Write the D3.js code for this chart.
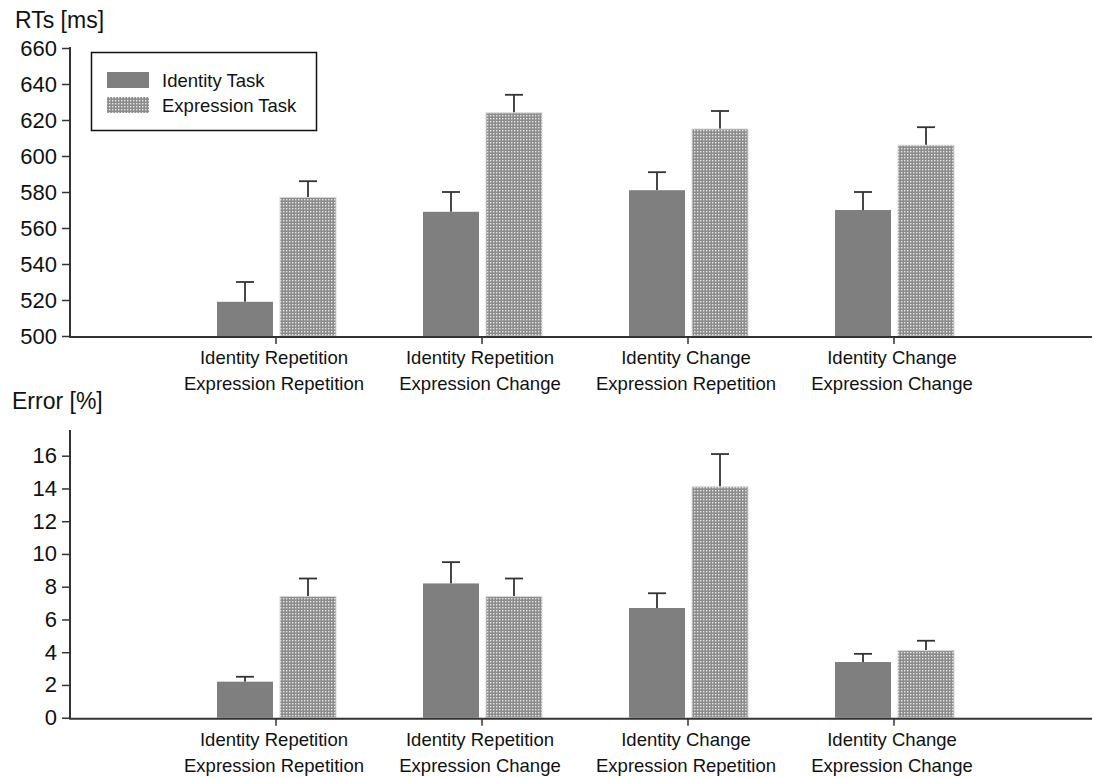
<!DOCTYPE html>
<html><head><meta charset="utf-8">
<script src="https://cdn.jsdelivr.net/npm/d3@7"></script>
<style>body{margin:0;background:#fff;}svg{display:block;font-family:"Liberation Sans",Arial,sans-serif;}</style>
</head><body>
<svg id="c" width="1094" height="778"></svg>
<script>
const categories = [
  ["Identity Repetition", "Expression Repetition"],
  ["Identity Repetition", "Expression Change"],
  ["Identity Change", "Expression Repetition"],
  ["Identity Change", "Expression Change"]
];
const series = ["Identity Task", "Expression Task"];
const rtIdentity = [519, 569, 581, 570];
const rtIdentityErr = [11, 11, 10, 10];
const rtExpression = [577, 624, 615, 606];
const rtExpressionErr = [9, 10, 10, 10];
const errIdentity = [2.2, 8.2, 6.7, 3.4];
const errIdentityErr = [0.3, 1.3, 0.9, 0.5];
const errExpression = [7.4, 7.4, 14.1, 4.1];
const errExpressionErr = [1.1, 1.1, 2.0, 0.6];
const rtTicks = [500, 520, 540, 560, 580, 600, 620, 640, 660];
const errTicks = [0, 2, 4, 6, 8, 10, 12, 14, 16];

const svg = d3.select("#c");
const defs = svg.append("defs");
const pat = defs.append("pattern").attr("id", "dots").attr("patternUnits", "userSpaceOnUse")
  .attr("width", 3).attr("height", 3);
pat.append("rect").attr("width", 3).attr("height", 3).attr("fill", "#8c8c8c");
pat.append("rect").attr("x", 1).attr("y", 1).attr("width", 1.4).attr("height", 1.4).attr("fill", "#e6e6e6");

const x = d3.scaleLinear().domain([0, 5]).range([70, 1100]);
const barW = 56, gap = 3;
const colId = "#7f7f7f";

function panel(cfg) {
  const y = d3.scaleLinear().domain(cfg.domain).range(cfg.range);
  const g = svg.append("g");
  const data = categories.map((c, i) => ({i, a: cfg.a[i], ae: cfg.ae[i], b: cfg.b[i], be: cfg.be[i]}));
  const y0 = y(cfg.domain[0]);
  data.forEach(d => {
    const cx = x(d.i + 1);
    [[cx - gap - barW / 2, d.a, d.ae], [cx + gap + 1 + barW / 2, d.b, d.be]].forEach(([ex, v, e]) => {
      g.append("line").attr("x1", ex).attr("x2", ex).attr("y1", y(v)).attr("y2", y(v + e))
        .attr("stroke", "#333").attr("stroke-width", 1.8);
      g.append("line").attr("x1", ex - 9).attr("x2", ex + 9).attr("y1", y(v + e)).attr("y2", y(v + e))
        .attr("stroke", "#333").attr("stroke-width", 1.8);
    });
    g.append("rect").attr("x", cx - gap - barW).attr("y", y(d.a)).attr("width", barW)
      .attr("height", y0 - y(d.a)).attr("fill", colId);
    g.append("rect").attr("x", cx + gap + 1).attr("y", y(d.b)).attr("width", barW)
      .attr("height", y0 - y(d.b)).attr("fill", "url(#dots)")
      .attr("stroke", "#d8d8d8").attr("stroke-width", 1);
  });
  const ya = d3.axisLeft(y).tickValues(cfg.ticks).tickSize(8).tickPadding(5).tickFormat(d3.format("d"));
  const yg = g.append("g").attr("transform", `translate(70,0)`).call(ya);
  yg.select(".domain").remove();
  yg.selectAll(".tick line").attr("stroke", "#333").attr("stroke-width", 1.5);
  yg.selectAll(".tick text").attr("font-size", 22).attr("fill", "#111").attr("font-family", "Liberation Sans, Arial, sans-serif");
  g.append("line").attr("x1", 70).attr("x2", 70).attr("y1", cfg.axisTop).attr("y2", y0 + 1)
    .attr("stroke", "#333").attr("stroke-width", 2);
  g.append("line").attr("x1", 69).attr("x2", 1092).attr("y1", y0 + 1).attr("y2", y0 + 1)
    .attr("stroke", "#333").attr("stroke-width", 2);
  categories.forEach((c, i) => {
    const cx = x(i + 1);
    g.append("line").attr("x1", cx).attr("x2", cx).attr("y1", y0 + 1).attr("y2", y0 + 8)
      .attr("stroke", "#333").attr("stroke-width", 1.5);
    c.forEach((t, k) => {
      g.append("text").attr("x", cx - 2).attr("y", y0 + 28 + k * 26).attr("text-anchor", "middle")
        .attr("font-size", 18.5).attr("fill", "#111").text(t);
    });
  });
  g.append("text").attr("x", cfg.titleX).attr("y", cfg.titleY).attr("font-size", 23).attr("fill", "#111").text(cfg.title);
}

panel({domain: [500, 660], range: [336, 48], ticks: rtTicks, a: rtIdentity, ae: rtIdentityErr,
  b: rtExpression, be: rtExpressionErr, axisTop: 47, title: "RTs [ms]", titleX: 15, titleY: 28});
panel({domain: [0, 16], range: [717.7, 455.7], ticks: errTicks, a: errIdentity, ae: errIdentityErr,
  b: errExpression, be: errExpressionErr, axisTop: 430, title: "Error [%]", titleX: 12, titleY: 409});

const lg = svg.append("g");
lg.append("rect").attr("x", 91.5).attr("y", 52.5).attr("width", 225).attr("height", 78)
  .attr("fill", "#fff").attr("stroke", "#111").attr("stroke-width", 1.5);
series.forEach((s, i) => {
  lg.append("rect").attr("x", 107).attr("y", 72 + i * 25).attr("width", 42).attr("height", 16)
    .attr("fill", i === 0 ? colId : "url(#dots)");
  lg.append("text").attr("x", 162).attr("y", 87 + i * 25).attr("font-size", 18.5).attr("fill", "#111").text(s);
});
</script>
</body></html>
